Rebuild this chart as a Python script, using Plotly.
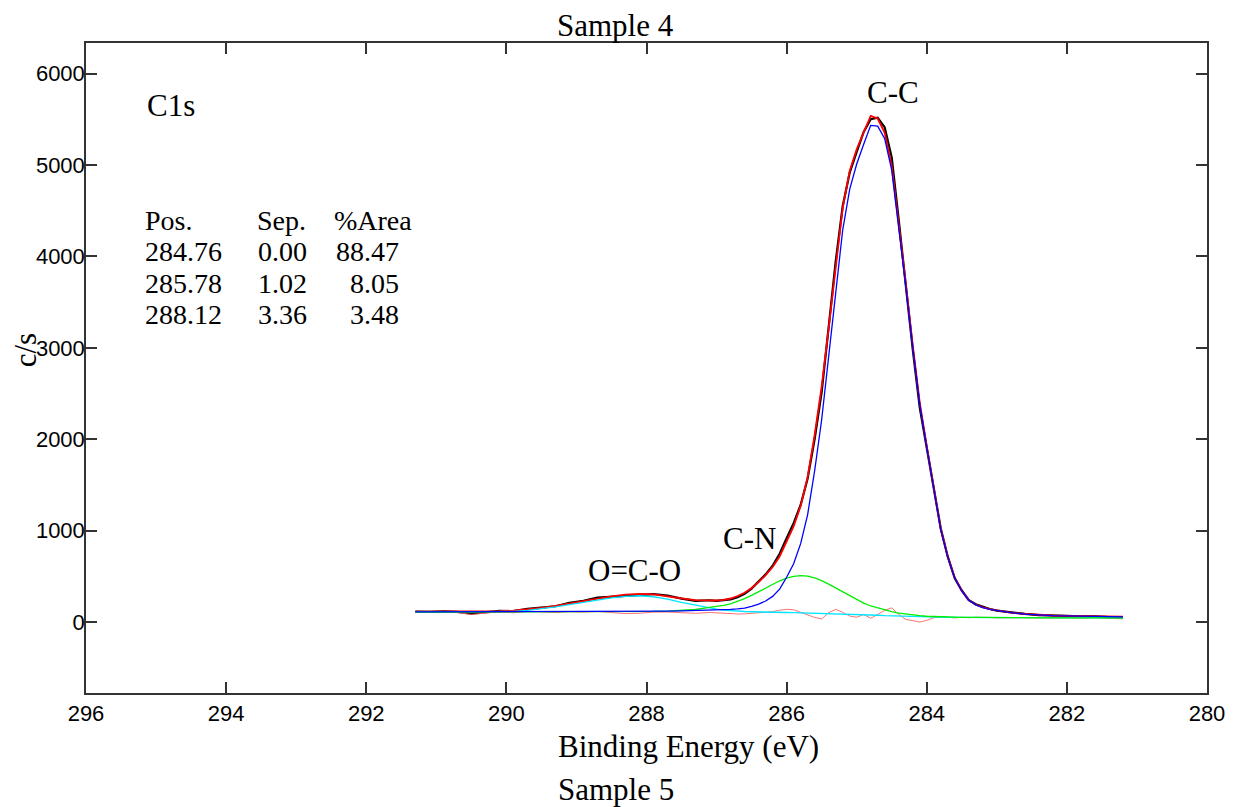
import plotly.graph_objects as go

# Binding energy grid (eV)
energy = [291.3, 291.1, 290.9, 290.7, 290.5, 290.3, 290.1, 289.9, 289.7, 289.5,
          289.3, 289.1, 288.9, 288.7, 288.5, 288.3, 288.1, 287.9, 287.7, 287.5,
          287.3, 287.1, 287.0, 286.9, 286.8, 286.7, 286.6, 286.5, 286.4, 286.3,
          286.2, 286.1, 286.0, 285.9, 285.8, 285.7, 285.6, 285.5, 285.4, 285.3,
          285.2, 285.1, 285.0, 284.9, 284.8, 284.7, 284.6, 284.5, 284.4, 284.3,
          284.2, 284.1, 284.0, 283.9, 283.8, 283.7, 283.6, 283.5, 283.4, 283.3,
          283.2, 283.1, 283.0, 282.8, 282.6, 282.4, 282.2, 282.0, 281.8, 281.6,
          281.4, 281.2]

# measured spectrum (c/s)
raw_counts = [113, 110, 117, 111, 92, 111, 122, 119, 144, 158,
              172, 209, 231, 266, 276, 287, 299, 306, 290, 255,
              232, 238, 231, 235, 247, 271, 308, 366, 438, 521,
              615, 747, 916, 1081, 1281, 1570, 2002, 2516, 3227, 3943,
              4550, 4916, 5144, 5363, 5503, 5519, 5413, 5085, 4400, 3678,
              2983, 2346, 1890, 1455, 1024, 715, 479, 345, 239, 194,
              166, 142, 125, 105, 88, 75, 74, 67, 61, 63,
              54, 48]

# fitted envelope
envelope = [113, 113, 115, 116, 117, 119, 119, 125, 136, 153,
            176, 203, 229, 256, 281, 299, 307, 302, 284, 258,
            239, 236, 235, 243, 257, 284, 320, 372, 436, 513,
            602, 717, 876, 1045, 1271, 1585, 2047, 2576, 3217, 3895,
            4530, 4936, 5174, 5358, 5537, 5509, 5353, 4995, 4380, 3708,
            3028, 2401, 1925, 1460, 1017, 715, 484, 342, 241, 190,
            160, 140, 128, 103, 88, 77, 71, 67, 64, 61,
            59, 58]

# C-C component (284.76 eV) incl. background
cc_component = [111, 111, 112, 112, 112, 113, 113, 113, 113, 114,
                114, 114, 114, 114, 115, 115, 116, 118, 119, 121,
                124, 128, 131, 135, 138, 143, 151, 171, 195, 230,
                280, 359, 489, 638, 857, 1176, 1655, 2213, 2892, 3610,
                4287, 4735, 5012, 5228, 5435, 5427, 5288, 4945, 4342, 3679,
                3007, 2385, 1913, 1452, 1011, 710, 480, 339, 239, 188,
                158, 138, 126, 102, 87, 76, 70, 66, 63, 60,
                58, 57]

# C-N component (285.78 eV) incl. background
cn_component = [109, 109, 109, 110, 110, 110, 110, 110, 110, 110,
                111, 110, 111, 110, 111, 111, 112, 116, 120, 128,
                137, 160, 168, 181, 198, 225, 256, 291, 332, 375,
                415, 451, 481, 500, 507, 501, 483, 453, 414, 372,
                327, 283, 242, 206, 175, 152, 131, 113, 98, 86,
                76, 69, 63, 59, 56, 54, 53, 51, 50, 49,
                49, 49, 49, 47, 47, 46, 46, 46, 46, 45,
                45, 45]

# O=C-O component (288.12 eV) incl. background
oco_component = [109, 109, 110, 110, 111, 112, 112, 116, 127, 143,
                 165, 191, 216, 242, 265, 281, 287, 276, 251, 215,
                 182, 152, 140, 131, 123, 118, 115, 112, 109, 108,
                 107, 105, 104, 103, 101, 100, 99, 96, 95, 93,
                 90, 88, 84, 80, 77, 74, 70, 67, 64, 61,
                 59, 57, 55, 53, 52, 51, 51, 50, 50, 49,
                 49, 49, 49, 48, 48, 47, 47, 47, 47, 46,
                 46, 46]

# residual drawn on the background level
residual = [108, 105, 110, 103, 83, 100, 111, 101, 115, 112,
            103, 112, 108, 115, 100, 92, 96, 108, 109, 100,
            95, 104, 98, 94, 91, 88, 89, 95, 102, 108,
            113, 129, 139, 134, 107, 81, 50, 33, 102, 138,
            107, 65, 52, 83, 41, 82, 128, 155, 82, 29,
            12, 0, 18, 47, 58, 50, 45, 52, 47, 52,
            54, 50, 45, 49, 47, 44, 49, 46, 43, 47,
            40, 35]

x_ticks = [296, 294, 292, 290, 288, 286, 284, 282, 280]
y_ticks = [0, 1000, 2000, 3000, 4000, 5000, 6000]

table_header = ["Pos.", "Sep.", "%Area"]
peak_pos = ["284.76", "285.78", "288.12"]
peak_sep = ["0.00", "1.02", "3.36"]
peak_area = ["88.47", "8.05", "3.48"]

W, H = 1237, 807
L, R, T, B = 86, 25, 43, 114
PW, PH = W - L - R, H - T - B

def px(xp):
    return (xp - L) / PW

def py(yp):
    return (H - B - yp) / PH

SERIF = "Liberation Serif, Times New Roman, serif"
SANS = "Liberation Sans, Arial, sans-serif"

fig = go.Figure()
fig.add_trace(go.Scatter(x=energy, y=raw_counts, mode="lines",
                         line=dict(color="#000000", width=2.2), name="data"))
fig.add_trace(go.Scatter(x=energy, y=residual, mode="lines",
                         line=dict(color="rgba(255,90,90,0.85)", width=1), name="residual"))
fig.add_trace(go.Scatter(x=energy, y=envelope, mode="lines",
                         line=dict(color="#ff0000", width=1.8), name="envelope"))
fig.add_trace(go.Scatter(x=energy, y=oco_component, mode="lines",
                         line=dict(color="#00e5ff", width=1.3), name="O=C-O"))
fig.add_trace(go.Scatter(x=energy, y=cn_component, mode="lines",
                         line=dict(color="#00ee00", width=1.3), name="C-N"))
fig.add_trace(go.Scatter(x=energy, y=cc_component, mode="lines",
                         line=dict(color="#0000ff", width=1.3), name="C-C"))

axis_common = dict(showgrid=False, zeroline=False, showline=True, linecolor="#333333",
                   linewidth=1.5, ticks="inside", ticklen=11, tickwidth=1.5,
                   tickcolor="#333333", mirror="ticks",
                   tickfont=dict(family=SANS, size=22, color="#000000"))

fig.update_xaxes(range=[296, 280], tickvals=x_ticks, ticktext=[str(v) for v in x_ticks],
                 **axis_common)
fig.update_yaxes(range=[-777, 6336], tickvals=y_ticks, ticktext=[str(v) for v in y_ticks],
                 ticklabelstandoff=-5, **axis_common)

ann = []
def add_text(text, xpix, ypix, size=31, xanchor="center", family=SERIF, angle=0):
    ann.append(dict(text=text, x=px(xpix), y=py(ypix), xref="paper", yref="paper",
                    xanchor=xanchor, yanchor="middle", showarrow=False, textangle=angle,
                    font=dict(family=family, size=size, color="#000000")))

add_text("Sample 4", 618, 26)
add_text("Binding Energy (eV)", 558, 746, xanchor="left")
add_text("Sample 5", 558, 789, xanchor="left")
add_text("c/s", 25, 350, angle=-90)
add_text("C1s", 171, 106)
add_text("C-C", 897, 93)
add_text("C-N", 752, 538)
add_text("O=C-O", 637, 570)

# peak table: rows spaced so the text boxes do not overlap
rows_y = [220, 251.5, 283, 314.5]
tsize = 28
add_text(table_header[0], 143, rows_y[0], size=tsize, xanchor="left")
add_text(table_header[1], 256, rows_y[0], size=tsize, xanchor="left")
add_text(table_header[2], 333, rows_y[0], size=tsize, xanchor="left")
for i in range(3):
    add_text(peak_pos[i], 143, rows_y[i + 1], size=tsize, xanchor="left")
    add_text(peak_sep[i], 257, rows_y[i + 1], size=tsize, xanchor="left")
    add_text(peak_area[i], 402, rows_y[i + 1], size=tsize, xanchor="right")

fig.update_layout(width=W, height=H, margin=dict(l=L, r=R, t=T, b=B),
                  paper_bgcolor="white", plot_bgcolor="white", showlegend=False,
                  annotations=ann)

fig.write_html("out.html", config={"displayModeBar": False},
               post_script="document.body.style.margin='0';")
